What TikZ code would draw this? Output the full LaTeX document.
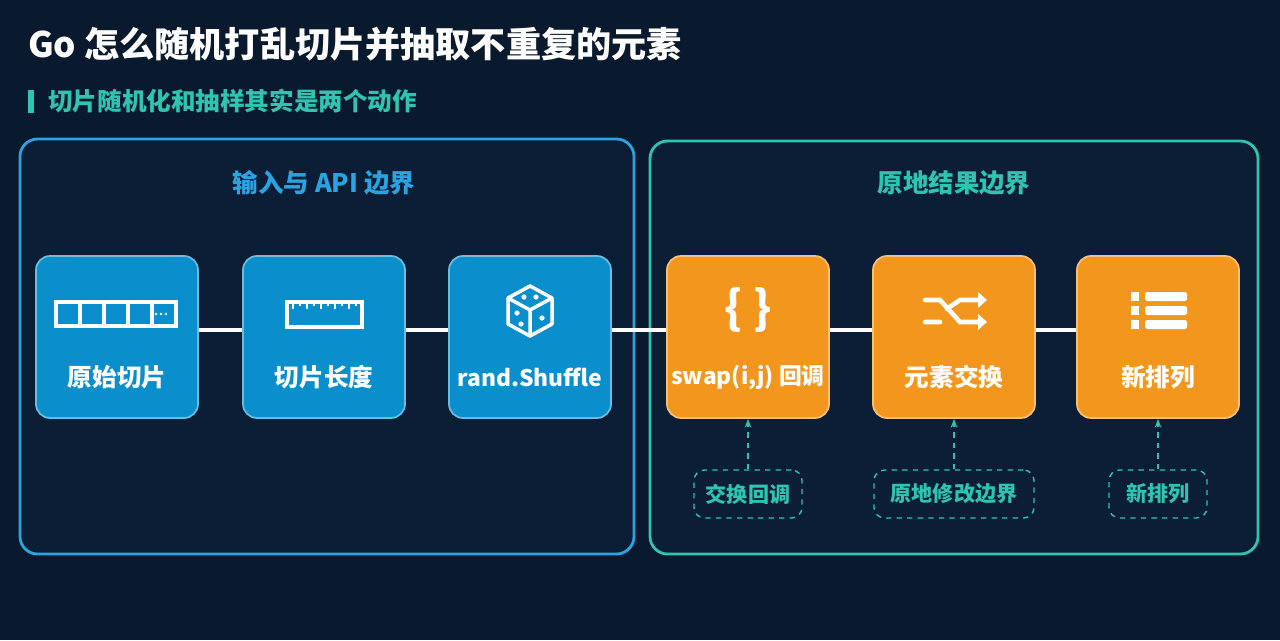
\documentclass[tikz,border=0pt]{standalone}
\usepackage{fontspec}
\setmainfont{Noto Sans CJK SC}
\usetikzlibrary{arrows.meta,positioning}
\definecolor{bgnavy}{HTML}{0A1A2E}
\definecolor{panelbg}{HTML}{0B1E35}
\definecolor{apiblue}{HTML}{2AA3E0}
\definecolor{boxblue}{HTML}{0A8FCC}
\definecolor{boxorange}{HTML}{F2961E}
\definecolor{tealc}{HTML}{2EC4B0}
\tikzset{
  panel/.style={draw, line width=1.6pt, rounded corners=10pt, fill=panelbg},
  step/.style={draw=#1!60!white, line width=1pt, fill=#1, rounded corners=8pt,
    minimum width=162\unitpx, minimum height=162\unitpx},
  label/.style={text=white, font=\fontsize{14}{16}\selectfont\bfseries},
  note/.style={draw=tealc, dashed, rounded corners=6pt, text=tealc, line width=0.8pt,
    minimum height=48\unitpx, font=\fontsize{12}{14}\selectfont\bfseries},
  link/.style={draw=white, line width=2.5pt},
  hint/.style={draw=tealc, dashed, line width=0.9pt, -{Stealth[length=5pt]}},
  icon/.style={draw=white, line width=2pt},
}
\newlength{\unitpx}\setlength{\unitpx}{0.02cm}
\begin{document}
\begin{tikzpicture}[x=0.02cm,y=-0.02cm]
  \useasboundingbox[fill=bgnavy] (0,0) rectangle (1280,640);
  % headings
  \node[anchor=west, text=white, font=\fontsize{20}{22}\selectfont\bfseries] (title) at (22,44) {Go 怎么随机打乱切片并抽取不重复的元素};
  \fill[tealc] (28,90) rectangle (34,113);
  \node[anchor=west, text=tealc, font=\fontsize{14}{16}\selectfont\bfseries] (subtitle) at (42,101) {切片随机化和抽样其实是两个动作};
  % panels
  \draw[panel, draw=apiblue] (20,139) rectangle (634,554);
  \draw[panel, draw=tealc] (650,141) rectangle (1258,554);
  \node[text=apiblue, font=\fontsize{14.5}{16}\selectfont\bfseries] (apititle) at (324,183) {输入与 API 边界};
  \node[text=tealc, font=\fontsize{14.5}{16}\selectfont\bfseries] (restitle) at (954,183) {原地结果边界};
  % connector behind the boxes
  \coordinate (lineL) at (198,330);
  \coordinate (lineR) at (1077,330);
  \draw[link] (lineL) -- (lineR);
  % steps
  \node[step=boxblue] (orig) at (117,337) {};
  \node[step=boxblue] (len) at (324,337) {};
  \node[step=boxblue] (shuf) at (530,337) {};
  \node[step=boxorange] (swap) at (748,337) {};
  \node[step=boxorange] (exch) at (954,337) {};
  \node[step=boxorange] (perm) at (1158,337) {};
  \node[label] at (117,377) {原始切片};
  \node[label] at (324,377) {切片长度};
  \node[label, font=\fontsize{13}{15}\selectfont\bfseries] at (530,377) {rand.Shuffle};
  \node[label, font=\fontsize{13}{15}\selectfont\bfseries] at (748,377) {swap(i,j) 回调};
  \node[label] at (954,377) {元素交换};
  \node[label] at (1158,377) {新排列};
  % icons
  \foreach \i in {0,...,4} \draw[icon] (56+\i*24,302) rectangle +(24,24);
  \foreach \i in {0,1,2} \fill[white] (156+\i*5,314) circle (1.4);
  \draw[icon] (287,302) rectangle (362,327);
  \foreach \i in {0,...,9} \draw[white, line width=1.2pt] (293+\i*7,302) -- +(0,{ifthenelse(mod(\i,2)==0,7,4)});
  \draw[icon, line join=round] (530,286) -- (552,298) -- (552,324) -- (530,336) -- (508,324) -- (508,298) -- cycle;
  \draw[icon] (508,298) -- (530,310) -- (552,298) (530,310) -- (530,336);
  \foreach \p in {(524,297),(536,297),(517,313),(521,324),(542,318)} \fill[white] \p circle (2.6);
  \node[text=white, font=\fontsize{26}{26}\selectfont\bfseries] (braces) at (748,310) {\{ \}};
  \draw[icon, line width=2.6pt, line cap=round] (925,300) -- (940,300) -- (960,322) -- (980,322) (925,322) -- (940,322) (947,309) -- (948,308) -- (960,300) -- (980,300);
  \fill[white] (987,300) -- (978,292) -- (978,308) -- cycle;
  \fill[white] (987,322) -- (978,314) -- (978,330) -- cycle;
  \foreach \j in {0,1,2} {
    \fill[white] (1131,292+\j*14) rectangle +(8,9);
    \fill[white, rounded corners=1pt] (1145,292+\j*14) rectangle +(42,9);
  }
  % notes
  \node[note, minimum width=108\unitpx] (nswap) at (748,494) {交换回调};
  \node[note, minimum width=160\unitpx] (nexch) at (954,494) {原地修改边界};
  \node[note, minimum width=98\unitpx] (nperm) at (1158,494) {新排列};
  \draw[hint] (nswap) -- (swap);
  \draw[hint] (nexch) -- (exch);
  \draw[hint] (nperm) -- (perm);
\end{tikzpicture}
\end{document}
